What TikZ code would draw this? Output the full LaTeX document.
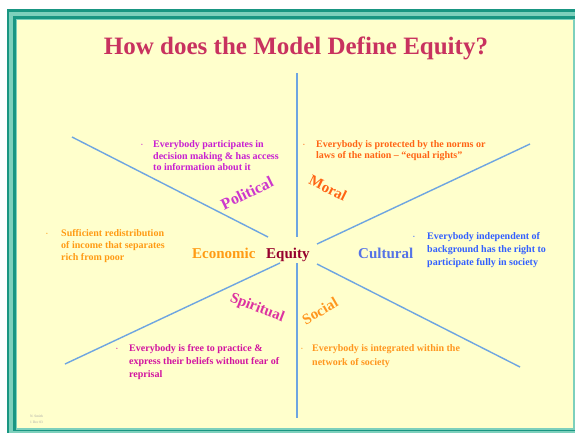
\documentclass[tikz,border=0pt]{standalone}
\usepackage{fontspec}
\setmainfont{Liberation Serif}
\definecolor{bgyellow}{RGB}{255,255,204}
\definecolor{tealdark}{RGB}{25,150,130}
\definecolor{teallight}{RGB}{125,208,188}
\definecolor{lineblue}{RGB}{110,165,225}
\definecolor{titlecol}{RGB}{200,50,95}
\definecolor{polcol}{RGB}{200,30,210}
\definecolor{polcoll}{RGB}{205,55,205}
\definecolor{moralcol}{RGB}{255,100,20}
\definecolor{econcol}{RGB}{255,155,20}
\definecolor{culcol}{RGB}{50,95,255}
\definecolor{culcoll}{RGB}{85,115,230}
\definecolor{spircol}{RGB}{210,20,160}
\definecolor{spircoll}{RGB}{220,50,160}
\definecolor{soccol}{RGB}{255,150,30}
\definecolor{eqcol}{RGB}{150,0,45}
\begin{document}
\begin{tikzpicture}[x=1pt,y=-1pt,
  spoke/.style={draw=lineblue, line width=1.4pt},
  desc/.style={inner sep=0pt, anchor=north west, align=left},
  lab/.style={inner sep=0pt, font=\fontsize{15}{17}\selectfont\bfseries},
  bul/.style={inner sep=0pt, font=\fontsize{5}{5}\selectfont}]
\useasboundingbox (0,0) rectangle (575,432);
% frame
\fill[white] (0,0) rectangle (575,432);
\fill[tealdark] (7,9) rectangle (590,445);
\fill[teallight] (9,11.5) rectangle (588,443);
\fill[tealdark] (13,16) rectangle (578,431);
\fill[teallight] (15.5,18.5) rectangle (575,430);
\fill[bgyellow] (17,20) rectangle (573,428);
% title
\node[inner sep=0pt, anchor=base, text=titlecol, font=\fontsize{25}{28}\selectfont\bfseries] (title) at (296,54) {How does the Model Define Equity?};
% spoke ends
\coordinate (vt) at (297,73);
\coordinate (vtc) at (297,237);
\coordinate (vb) at (297,418);
\coordinate (vbc) at (297,263);
\coordinate (ul) at (72,137);
\coordinate (ulc) at (268,237);
\coordinate (ur) at (530,144);
\coordinate (urc) at (317,244);
\coordinate (ll) at (65,364);
\coordinate (llc) at (280,263);
\coordinate (lr) at (520,367);
\coordinate (lrc) at (317,264);
\draw[spoke] (vt) -- (vtc);
\draw[spoke] (vbc) -- (vb);
\draw[spoke] (ul) -- (ulc);
\draw[spoke] (ur) -- (urc);
\draw[spoke] (ll) -- (llc);
\draw[spoke] (lr) -- (lrc);
% center labels
\node[lab, anchor=base west, text=econcol] (econ) at (192,258) {Economic};
\node[lab, anchor=base west, text=eqcol] (equity) at (266,258) {Equity};
\node[lab, anchor=base west, text=culcoll] (cult) at (358,258) {Cultural};
% rotated labels
\node[lab, text=polcoll, rotate=26, font=\fontsize{16}{18}\selectfont\bfseries] (pol) at (247,193) {Political};
\node[lab, text=moralcol, rotate=-26] (moral) at (328,188) {Moral};
\node[lab, text=spircoll, rotate=-21] (spir) at (257,308) {Spiritual};
\node[lab, text=soccol, rotate=30] (soc) at (320,311) {Social};
% descriptions
\node[bul, text=polcol] (b1) at (142,145) {\textbullet};
\node[desc, text=polcol, font=\fontsize{10}{11.5}\selectfont\bfseries] (d1) at (153,140.5)
  {Everybody participates in\\decision making \& has access\\to information about it};
\node[bul, text=moralcol] (b2) at (304,145) {\textbullet};
\node[desc, text=moralcol, font=\fontsize{10}{10.5}\selectfont\bfseries] (d2) at (316,140.5)
  {Everybody is protected by the norms or\\laws of the nation -- ``equal rights''};
\node[bul, text=econcol] (b3) at (47,234) {\textbullet};
\node[desc, text=econcol, font=\fontsize{10}{12}\selectfont\bfseries] (d3) at (61,229.5)
  {Sufficient redistribution\\of income that separates\\rich from poor};
\node[bul, text=culcol] (b4) at (414,237) {\textbullet};
\node[desc, text=culcol, font=\fontsize{10}{13}\selectfont\bfseries] (d4) at (427,232.5)
  {Everybody independent of\\background has the right to\\participate fully in society};
\node[bul, text=spircol] (b5) at (117,349) {\textbullet};
\node[desc, text=spircol, font=\fontsize{10}{13}\selectfont\bfseries] (d5) at (129,344.5)
  {Everybody is free to practice \&\\express their beliefs without fear of\\reprisal};
\node[bul, text=soccol] (b6) at (302,349) {\textbullet};
\node[desc, text=soccol, font=\fontsize{10}{14}\selectfont\bfseries] (d6) at (312,344.5)
  {Everybody is integrated within the\\network of society};
% footnote
\node[desc, text=gray!70, font=\fontsize{3.5}{6}\selectfont] (foot) at (30,415) {N. Smith\\1 Dec 03};
\end{tikzpicture}
\end{document}
